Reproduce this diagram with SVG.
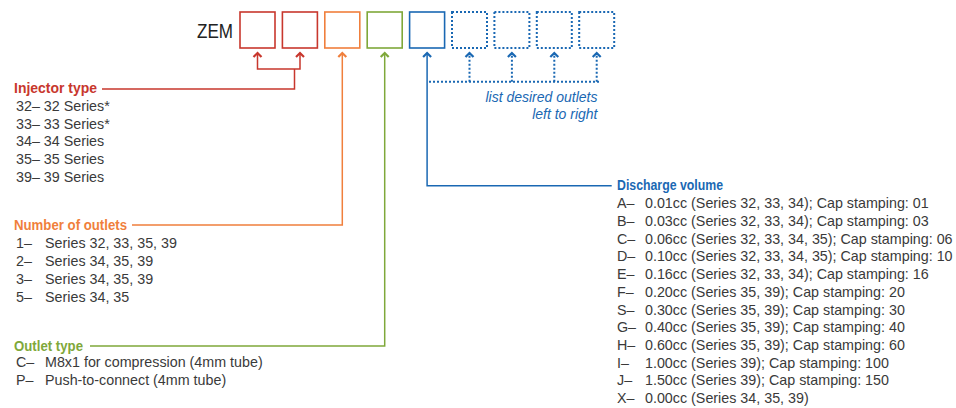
<svg xmlns="http://www.w3.org/2000/svg" width="956" height="408" viewBox="0 0 956 408">
<style>
.t{font-family:"Liberation Sans",Arial,sans-serif;font-size:14.3px;fill:#3a3a3a}
.h{font-family:"Liberation Sans",Arial,sans-serif;font-size:14px;font-weight:bold}
.box{fill:#fff;stroke-width:1.6}
.ln{fill:none;stroke-width:1.5}
.ah{fill:none;stroke-width:2.2;stroke-linejoin:miter}
.red{stroke:#c8372d}.org{stroke:#f07f3c}.grn{stroke:#7fa83a}.blu{stroke:#1a68b3}
.dot{stroke-dasharray:2 2;stroke-width:2}
</style>
<rect width="956" height="408" fill="#fff"/>
<text x="197" y="38" font-family="'Liberation Sans',Arial,sans-serif" font-size="20" fill="#222" textLength="36" lengthAdjust="spacingAndGlyphs">ZEM</text>
<g id="box-injector-1"><rect class="box red" x="240" y="12" width="35" height="36"/></g>
<g id="box-injector-2"><rect class="box red" x="282.4" y="12" width="35" height="36"/></g>
<g id="box-outlets"><rect class="box org" x="324.8" y="12" width="35" height="36"/></g>
<g id="box-outlet-type"><rect class="box grn" x="367.2" y="12" width="35" height="36"/></g>
<g id="box-discharge"><rect class="box blu" x="409.6" y="12" width="35" height="36"/></g>
<g id="box-extra-1"><rect class="box blu dot" x="452" y="12" width="35" height="36"/></g>
<g id="box-extra-2"><rect class="box blu dot" x="494.4" y="12" width="35" height="36"/></g>
<g id="box-extra-3"><rect class="box blu dot" x="536.8" y="12" width="35" height="36"/></g>
<g id="box-extra-4"><rect class="box blu dot" x="579.2" y="12" width="35" height="36"/></g>
<g id="connectors">
<path class="ln red" d="M257.5 53V69H300V53M294.5 69V89H102"/>
<path class="ah red" d="M253.5 57L257.5 53L261.5 57M296 57L300 53L304 57"/>
<path class="ln org" d="M342.3 53V225H132"/>
<path class="ah org" d="M338.3 57L342.3 53L346.3 57"/>
<path class="ln grn" d="M384.7 53V346H90"/>
<path class="ah grn" d="M380.7 57L384.7 53L388.7 57"/>
<path class="ln blu" d="M427.1 53V185.7H611.7"/>
<path class="ah blu" d="M423.1 57L427.1 53L431.1 57"/>
<path class="ln blu dot" d="M429 81.7H599.5M469.5 81.7V55M511.9 81.7V55M554.3 81.7V55M596.7 81.7V55"/>
<path class="ah blu" d="M465.5 57L469.5 53L473.5 57M507.9 57L511.9 53L515.9 57M550.3 57L554.3 53L558.3 57M592.7 57L596.7 53L600.7 57"/>
</g>
<g id="note" font-family="'Liberation Sans',Arial,sans-serif" font-size="14" font-style="italic" fill="#1a68b3" text-anchor="end">
<text x="597.5" y="101.7">list desired outlets</text>
<text x="597.5" y="119">left to right</text>
</g>
<g id="injector-type">
<text class="h" x="14" y="93.3" fill="#c8372d" textLength="83" lengthAdjust="spacingAndGlyphs">Injector type</text>
<text class="t" x="16" y="111">32– 32 Series*</text>
<text class="t" x="16" y="128.7">33– 33 Series*</text>
<text class="t" x="16" y="146.4">34– 34 Series</text>
<text class="t" x="16" y="164.1">35– 35 Series</text>
<text class="t" x="16" y="181.8">39– 39 Series</text>
</g>
<g id="number-of-outlets">
<text class="h" x="14" y="230" fill="#f07f3c" textLength="113" lengthAdjust="spacingAndGlyphs">Number of outlets</text>
<text class="t" x="16" y="248.3">1–</text><text class="t" x="45" y="248.3">Series 32, 33, 35, 39</text>
<text class="t" x="16" y="266">2–</text><text class="t" x="45" y="266">Series 34, 35, 39</text>
<text class="t" x="16" y="283.8">3–</text><text class="t" x="45" y="283.8">Series 34, 35, 39</text>
<text class="t" x="16" y="301.6">5–</text><text class="t" x="45" y="301.6">Series 34, 35</text>
</g>
<g id="outlet-type">
<text class="h" x="14" y="350.5" fill="#7fa83a" textLength="69" lengthAdjust="spacingAndGlyphs">Outlet type</text>
<text class="t" x="16" y="367.3">C–</text><text class="t" x="45" y="367.3">M8x1 for compression (4mm tube)</text>
<text class="t" x="16" y="385">P–</text><text class="t" x="45" y="385">Push-to-connect (4mm tube)</text>
</g>
<g id="discharge-volume">
<text class="h" x="617" y="190" fill="#1a68b3" textLength="106" lengthAdjust="spacingAndGlyphs">Discharge volume</text>
<text class="t" x="617" y="208.3">A–</text><text class="t" x="645" y="208.3">0.01cc (Series 32, 33, 34); Cap stamping: 01</text>
<text class="t" x="617" y="226">B–</text><text class="t" x="645" y="226">0.03cc (Series 32, 33, 34); Cap stamping: 03</text>
<text class="t" x="617" y="243.7">C–</text><text class="t" x="645" y="243.7">0.06cc (Series 32, 33, 34, 35); Cap stamping: 06</text>
<text class="t" x="617" y="261.4">D–</text><text class="t" x="645" y="261.4">0.10cc (Series 32, 33, 34, 35); Cap stamping: 10</text>
<text class="t" x="617" y="279.1">E–</text><text class="t" x="645" y="279.1">0.16cc (Series 32, 33, 34); Cap stamping: 16</text>
<text class="t" x="617" y="296.8">F–</text><text class="t" x="645" y="296.8">0.20cc (Series 35, 39); Cap stamping: 20</text>
<text class="t" x="617" y="314.5">S–</text><text class="t" x="645" y="314.5">0.30cc (Series 35, 39); Cap stamping: 30</text>
<text class="t" x="617" y="332.2">G–</text><text class="t" x="645" y="332.2">0.40cc (Series 35, 39); Cap stamping: 40</text>
<text class="t" x="617" y="349.9">H–</text><text class="t" x="645" y="349.9">0.60cc (Series 35, 39); Cap stamping: 60</text>
<text class="t" x="617" y="367.6">I–</text><text class="t" x="645" y="367.6">1.00cc (Series 39); Cap stamping: 100</text>
<text class="t" x="617" y="385.3">J–</text><text class="t" x="645" y="385.3">1.50cc (Series 39); Cap stamping: 150</text>
<text class="t" x="617" y="403">X–</text><text class="t" x="645" y="403">0.00cc (Series 34, 35, 39)</text>
</g>
</svg>
